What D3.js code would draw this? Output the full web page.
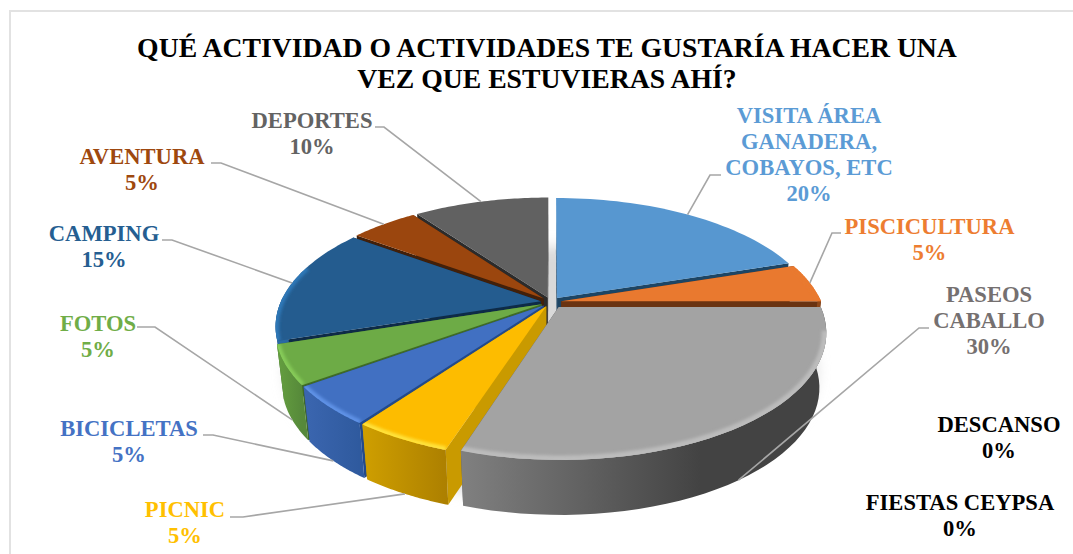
<!DOCTYPE html>
<html><head><meta charset="utf-8">
<script src="https://cdn.jsdelivr.net/npm/d3@7"></script>
<style>
html,body{margin:0;padding:0;background:#fff}
svg{display:block}
text{font-family:"Liberation Serif",serif;font-weight:700}
</style></head><body>
<svg id="c" width="1073" height="554"></svg>
<script>
const titleLines = ["QUÉ ACTIVIDAD O ACTIVIDADES TE GUSTARÍA HACER UNA","VEZ QUE ESTUVIERAS AHÍ?"];
const categories = ["VISITA ÁREA GANADERA, COBAYOS, ETC","PISCICULTURA","PASEOS CABALLO","DESCANSO","FIESTAS CEYPSA","PICNIC","BICICLETAS","FOTOS","CAMPING","AVENTURA","DEPORTES"];
const values = [20,5,30,0,0,5,5,5,15,5,10];

// styles, by category index
const topColors  = ["#5797d0","#e9792f","#a3a3a3","#000","#000","#fdbc00","#4170c2","#6dab46","#245c8f","#9b460e","#616161"];
const textColors = ["#5b9bd5","#ed7d31","#757070","#000","#000","#ffc000","#4472c4","#70ad47","#255e91","#9e480e","#636363"];
const wallLeft   = ["#3f76a8","#b85f22","#808080","#000","#000","#cf9f00","#3b66b0","#659f40","#2a6ca8","#7a370b","#4d4d4d"];
const wallRight  = ["#3f76a8","#8a4518","#434343","#000","#000","#ad8000","#2f5a9e","#56893a","#1d4a74","#7a370b","#4d4d4d"];
const edgeColors = ["#1d4564","#6a3311","#555","#000","#000","#c99a00","#234a8a","#3f6a28","#0e2b47","#42200a","#2b2b2b"];
const rimColors  = ["#5797d0","#e9792f","#bcbcbc","#000","#000","#ffe23a","#5f92e6","#86cb58","#2e78b8","#9b460e","#616161"];
const explodeBy  = [0.04,0.04,0.05,0,0,0.04,0.04,0.04,0.04,0.04,0.04];
const bevelFrom  = [-0.3,-0.3,0.15,0,0,-0.3,-0.3,-0.3,-0.3,-0.3,-0.3];
const drawOrder  = [10,0,9,1,8,7,6,5,2];

// label layout: centre x, first baseline, leader elbow start and elbow x,y
const labelLines = [["VISITA ÁREA","GANADERA,","COBAYOS, ETC","20%"],["PISCICULTURA","5%"],["PASEOS","CABALLO","30%"],["DESCANSO","0%"],["FIESTAS CEYPSA","0%"],["PICNIC","5%"],["BICICLETAS","5%"],["FOTOS","5%"],["CAMPING","15%"],["AVENTURA","5%"],["DEPORTES","10%"]];
const labelX = [809,929.5,989,999,960,185,129,98,104,142,312];
const labelY = [123,234,302,432,510,517,436,331,241,164,128];
const leaderStart = [[721,175],[841,233],[929,328],null,null,[230,517],[203,435],[137,327],[162,240],[211,163],[375,127]];
const leaderElbow = [[710,175],[832,233],[919,328],null,null,[243,517],[213,435],[155,327],[172,240],[221,163],[384,127]];

const W=1073,H=554;
const cx=551,cy=302,B=260,A=121,K=0.195,DROP=55,SHRINK=0.975;
const svg=d3.select("#c");
const defs=svg.append("defs");

function project(theta,r,ox=0,oy=0,low=false){
  const u=r*Math.sin(theta)+ox, v=-r*Math.cos(theta)+oy;
  const D=1-K*v;
  let x=B*u/D, y=A*v/D;
  if(low){x*=SHRINK;y+=DROP;}
  return [cx+x,cy+y];
}
const line=d3.line();
const arcs=d3.pie().sort(null).value(d=>d).startAngle(0).endAngle(2*Math.PI)(values);

// frame
svg.append("line").attr("x1",10).attr("y1",11).attr("x2",W).attr("y2",11).attr("stroke","#e2e2e2").attr("stroke-width",2);
svg.append("line").attr("x1",10).attr("y1",10).attr("x2",10).attr("y2",H).attr("stroke","#e2e2e2").attr("stroke-width",2);

// filters
defs.append("filter").attr("id","sh").attr("x","-20%").attr("y","-20%").attr("width","140%").attr("height","140%")
  .append("feGaussianBlur").attr("stdDeviation",7);
defs.append("filter").attr("id","bl").attr("filterUnits","userSpaceOnUse").attr("x",0).attr("y",0).attr("width",W).attr("height",H)
  .append("feGaussianBlur").attr("stdDeviation",1.6);

// shadow behind the pie
const circle=d3.range(0,361,3).map(d=>{const p=project(d*Math.PI/180,1.0);return [p[0],p[1]+46];});
svg.append("path").attr("d",line(circle)+"Z").attr("fill","#d9d9d9").attr("filter","url(#sh)");

const pie=svg.append("g");
drawOrder.forEach(i=>{
  const a=arcs[i];
  const mid=(a.startAngle+a.endAngle)/2;
  const e=explodeBy[i];
  const ox=e*Math.sin(mid), oy=-e*Math.cos(mid);
  const steps=d3.range(0,41).map(t=>a.startAngle+(a.endAngle-a.startAngle)*t/40);
  const rimTop=steps.map(t=>project(t,1,ox,oy));
  const rimLow=steps.map(t=>project(t,1,ox,oy,true));
  const apexTop=project(0,0,ox,oy), apexLow=project(0,0,ox,oy,true);
  const g=pie.append("g");
  // radial side walls
  [[rimTop[0],rimLow[0]],[rimTop[40],rimLow[40]]].forEach(([t,l])=>{
    g.append("path").attr("d",line([apexTop,t,l,apexLow])+"Z").attr("fill",edgeColors[i]);
  });
  // outer wall: only the part that faces the viewer
  const near=steps.map((t,k)=>k).filter(k=>-Math.cos(steps[k])>-0.05);
  if(near.length>1){
    const gid="w"+i;
    const xs=rimTop.map(p=>p[0]);
    const grad=defs.append("linearGradient").attr("id",gid).attr("gradientUnits","userSpaceOnUse")
      .attr("x1",d3.min(xs)).attr("x2",i===2?700:d3.max(xs)).attr("y1",0).attr("y2",0);
    grad.append("stop").attr("offset",0).attr("stop-color",wallLeft[i]);
    grad.append("stop").attr("offset",1).attr("stop-color",wallRight[i]);
    const wt=near.map(k=>rimTop[k]), wl=near.map(k=>rimLow[k]).reverse();
    g.append("path").attr("d",line(wt.concat(wl))+"Z").attr("fill",`url(#${gid})`);
  }
  // top face
  const topD=line([apexTop].concat(rimTop))+"Z";
  g.append("path").attr("d",topD).attr("fill",topColors[i]);
  // bevel along the rim, only on the near side
  const cid="t"+i;
  defs.append("clipPath").attr("id",cid).append("path").attr("d",topD);
  const nearRim=rimTop.filter((p,k)=>-Math.cos(steps[k])>bevelFrom[i]);
  if(nearRim.length>1){
    g.append("g").attr("clip-path",`url(#${cid})`).append("path").attr("d",line(nearRim))
      .attr("fill","none").attr("stroke",rimColors[i]).attr("stroke-width",i===2?9:7).attr("filter","url(#bl)");
  }
});

// leader lines
arcs.forEach((a,i)=>{
  if(!leaderStart[i]) return;
  const mid=(a.startAngle+a.endAngle)/2;
  const e=explodeBy[i];
  const ox=e*Math.sin(mid), oy=-e*Math.cos(mid);
  const end=project(mid,1,ox,oy,-Math.cos(mid)>0.3);
  svg.append("path").attr("d",line([leaderStart[i],leaderElbow[i],end])).attr("fill","none")
    .attr("stroke","#a6a6a6").attr("stroke-width",1.6);
});

// labels
labelLines.forEach((ls,i)=>{
  const t=svg.append("text").attr("text-anchor","middle").attr("font-size",22.6).attr("fill",textColors[i]);
  ls.forEach((s,k)=>t.append("tspan").attr("x",labelX[i]).attr("y",labelY[i]+k*25.9).text(s));
});
// title
titleLines.forEach((s,k)=>svg.append("text").attr("x",547).attr("y",57+k*31).attr("text-anchor","middle")
  .attr("font-size",27.7).attr("fill","#000").text(s));
</script></body></html>
